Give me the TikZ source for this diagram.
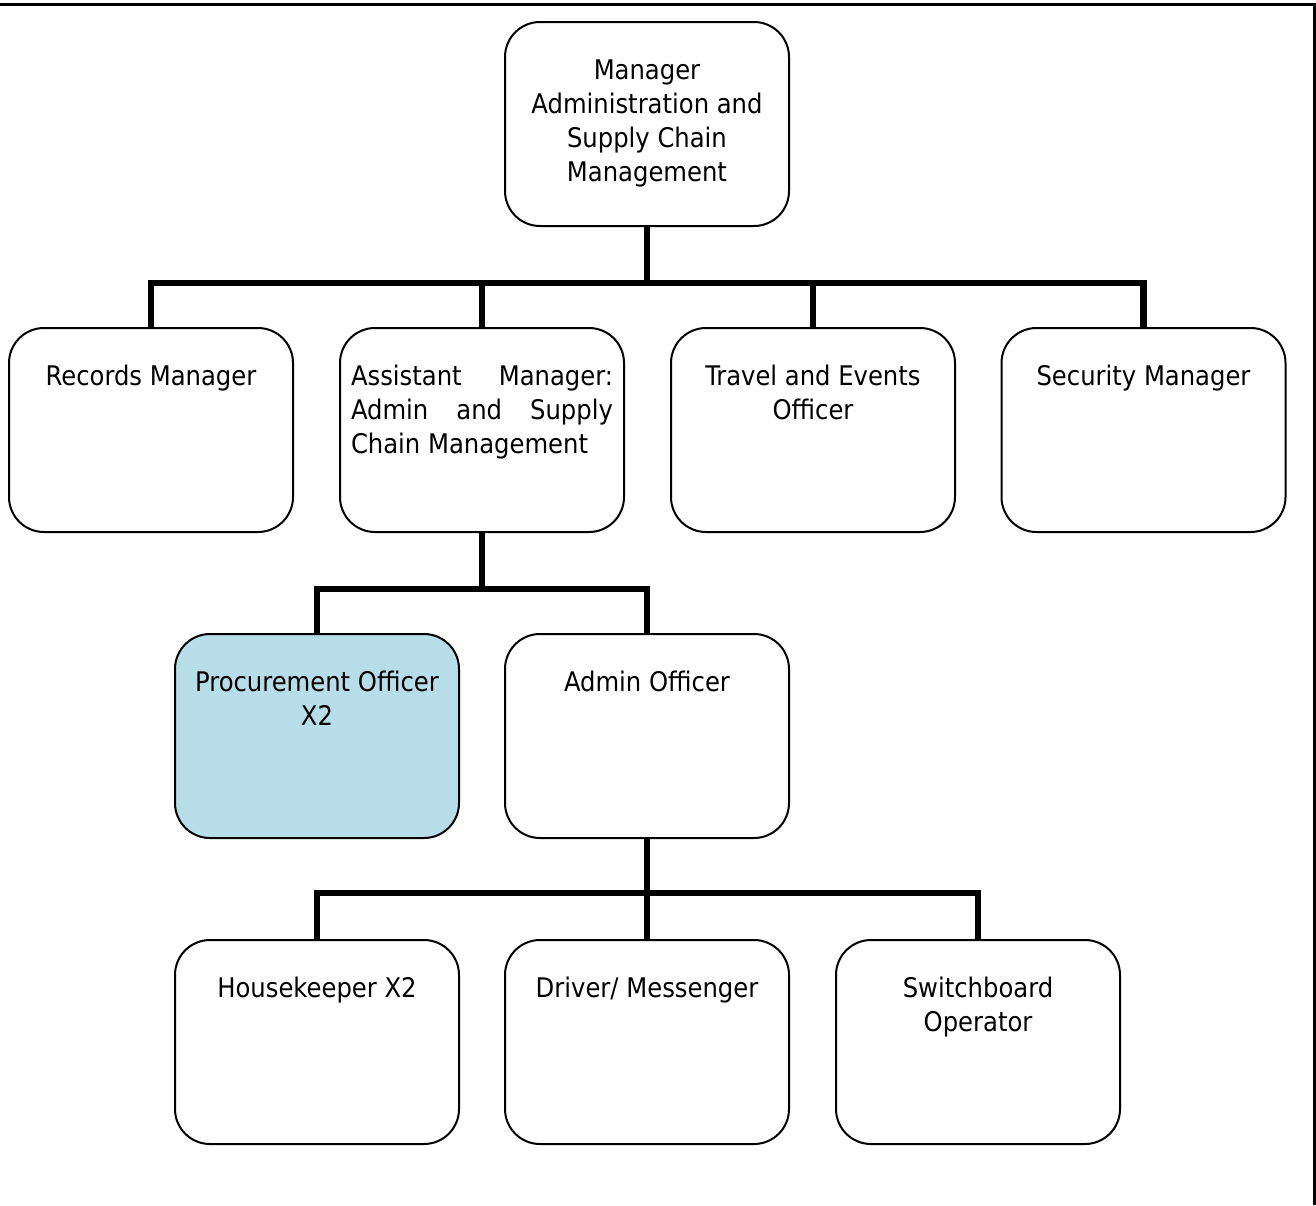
\documentclass[tikz,border=0pt]{standalone}
\usepackage{fontspec}
\setmainfont{DejaVu Sans Condensed}
\usetikzlibrary{calc}
\definecolor{procblue}{RGB}{183,221,232}
\newcommand{\boxtext}[1]{\parbox[c][204pt][t]{262pt}{\centering\rule{0pt}{57pt}#1}}
\newcommand{\boxjust}[1]{\parbox[c][204pt][t]{262pt}{\rule{0pt}{57pt}#1}}
\begin{document}
\begin{tikzpicture}[x=1pt,y=-1pt,
  box/.style={draw, line width=2pt, rounded corners=35pt, inner sep=0pt,
    minimum width=284pt, minimum height=204pt, font=\fontsize{27}{34}\selectfont},
  conn/.style={line width=6.5pt, line join=miter}]
\useasboundingbox (0,0) rectangle (1316,1205);
\draw[line width=3pt] (0,4) -- (1314.5,4) -- (1314.5,1205);

\node[box] (top) at (647,124) {\boxtext{Manager\\Administration and\\Supply Chain\\Management}};

\node[box] (rec) at (151,430) {\boxtext{Records Manager}};
\node[box] (ast) at (482,430) {\boxjust{\makebox[262pt][s]{Assistant Manager:}\\\makebox[262pt][s]{Admin and Supply}\\Chain Management}};
\node[box] (trav) at (813,430) {\boxtext{Travel and Events\\Officer}};
\node[box] (sec) at (1143.5,430) {\boxtext{Security Manager}};

\node[box, fill=procblue] (proc) at (317,736) {\boxtext{Procurement Officer\\X2}};
\node[box] (adm) at (647,736) {\boxtext{Admin Officer}};

\node[box] (hk) at (317,1042) {\boxtext{Housekeeper X2}};
\node[box] (drv) at (647,1042) {\boxtext{Driver/ Messenger}};
\node[box] (sw) at (978,1042) {\boxtext{Switchboard\\Operator}};

\coordinate (bus1) at (647,283);
\draw[conn] (top.south) -- (bus1);
\draw[conn] (rec.north) |- (bus1) -| (sec.north);
\draw[conn] (ast.north) -- (ast.north |- bus1);
\draw[conn] (trav.north) -- (trav.north |- bus1);

\coordinate (bus2) at (482,589);
\draw[conn] (ast.south) -- (bus2);
\draw[conn] (proc.north) |- (bus2) -| (adm.north);

\coordinate (bus3) at (647,893);
\draw[conn] (adm.south) -- (bus3);
\draw[conn] (hk.north) |- (bus3) -| (sw.north);
\draw[conn] (drv.north) -- (bus3);
\end{tikzpicture}
\end{document}
